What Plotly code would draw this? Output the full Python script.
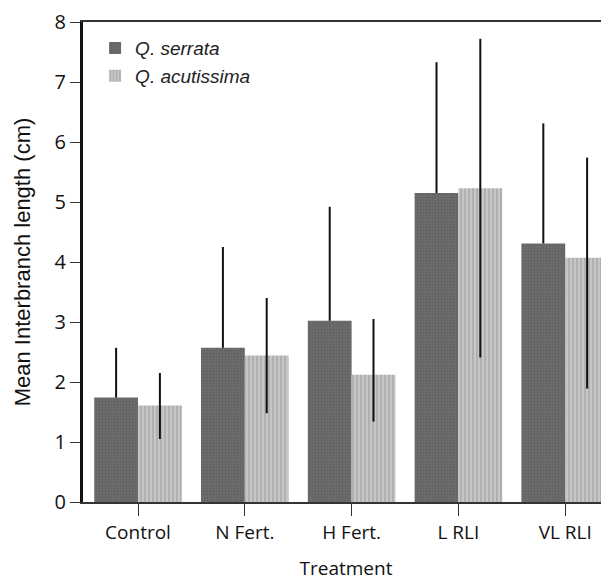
import plotly.graph_objects as go

categories = ["Control", "N Fert.", "H Fert.", "L RLI", "VL RLI"]
serrata = [1.74, 2.57, 3.02, 5.15, 4.31]
serrata_err_up = [0.83, 1.68, 1.90, 2.18, 2.00]
acutissima = [1.61, 2.44, 2.12, 5.23, 4.07]
acutissima_err_up = [0.54, 0.96, 0.93, 2.49, 1.67]
acutissima_err_down = [0.56, 0.96, 0.78, 2.82, 2.18]

fig = go.Figure()
fig.add_trace(go.Bar(
    name="<i>Q. serrata</i>", x=categories, y=serrata,
    marker=dict(color="#656565", line=dict(width=0),
                pattern=dict(shape=".", fgcolor="#525252", bgcolor="#6c6c6c", size=3, solidity=0.3)),
    error_y=dict(type="data", array=serrata_err_up, arrayminus=[0]*5, symmetric=False,
                 color="#111", thickness=2, width=0),
))
fig.add_trace(go.Bar(
    name="<i>Q. acutissima</i>", x=categories, y=acutissima,
    marker=dict(color="#b0b0b0", line=dict(width=0),
                pattern=dict(shape="|", fgcolor="#888888", bgcolor="#c6c6c6", size=4, solidity=0.35)),
    error_y=dict(type="data", array=acutissima_err_up, arrayminus=acutissima_err_down,
                 symmetric=False, color="#111", thickness=2, width=0),
))

fig.update_layout(
    width=601, height=576,
    margin=dict(l=75, r=0, t=7, b=82),
    paper_bgcolor="white", plot_bgcolor="white",
    barmode="group", bargap=0.18, bargroupgap=0,
    font=dict(family="Open Sans, sans-serif", color="#222"),
    showlegend=True,
    legend=dict(x=0.023, y=0.985, xanchor="left", yanchor="top",
                font=dict(family="Liberation Sans, Arial", size=19, color="#222"),
                bgcolor="rgba(0,0,0,0)", tracegroupgap=0, itemwidth=30),
)
fig.update_xaxes(
    range=[-0.515, 4.41], showline=True, linecolor="#333", linewidth=2, mirror=True,
    ticks="outside", ticklen=12, tickcolor="#333", tickwidth=1,
    tickfont=dict(size=19, family="Open Sans, sans-serif", color="#111"),
    title=dict(text="Treatment", font=dict(size=19, family="Open Sans, sans-serif", color="#111"), standoff=18),
    showgrid=False,
)
fig.update_yaxes(
    range=[0, 8], dtick=1, showline=True, linecolor="#111", linewidth=3,
    ticks="outside", ticklen=10, tickcolor="#333", tickwidth=1, ticklabeloverflow="allow",
    tickfont=dict(size=20, family="Open Sans, sans-serif", color="#111"),
    title=dict(text="Mean Interbranch length (cm)", font=dict(size=22, family="Liberation Sans, Arial", color="#111"), standoff=18),
    showgrid=False, zeroline=False,
)
fig.write_html("out.html")
